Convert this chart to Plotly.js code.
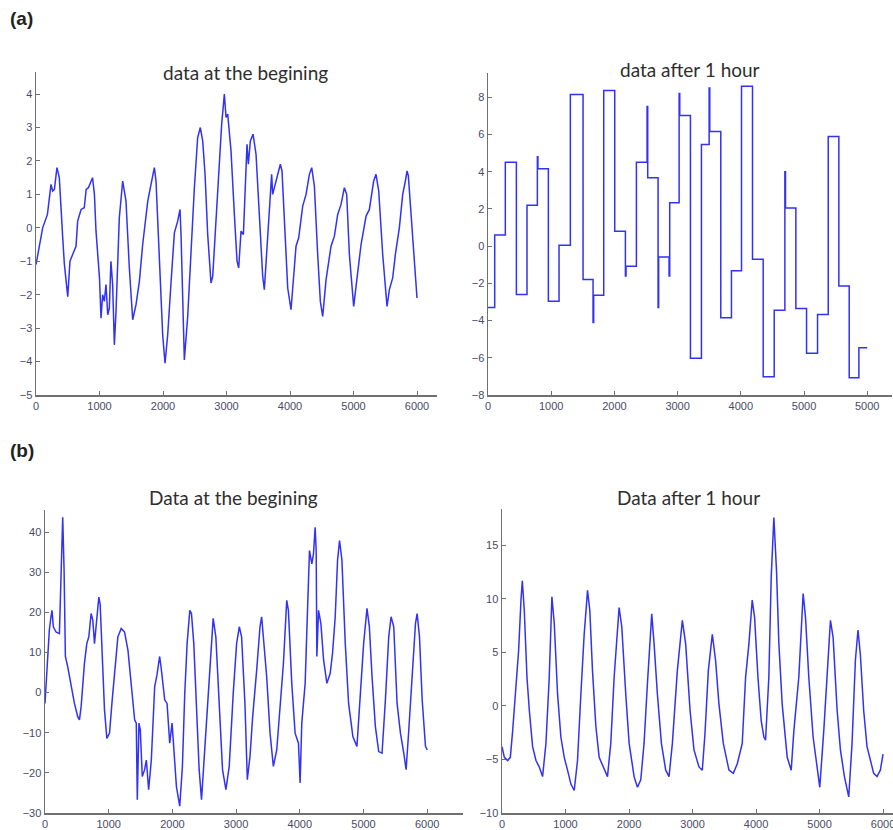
<!DOCTYPE html>
<html>
<head>
<meta charset="utf-8">
<script src="https://cdn.plot.ly/plotly-3.0.1.min.js"></script>
<style>html,body{margin:0;padding:0;background:#fff;}#chart{width:893px;height:830px;}</style>
</head>
<body>
<div id="chart"></div>
<script>
// Panel (a) left: data at the begining
const a1X = [0,50,105,180,210,236,262,290,330,367,420,446,500,535,577,630,656,710,760,790,825,866,890,920,945,1000,1024,1050,1076,1102,1130,1155,1180,1207,1234,1260,1312,1365,1417,1470,1523,1575,1628,1680,1760,1811,1864,1890,1943,1995,2032,2074,2126,2179,2231,2268,2284,2310,2336,2389,2441,2494,2546,2588,2625,2662,2704,2756,2783,2835,2888,2924,2966,2993,3019,3071,3124,3166,3192,3229,3266,3297,3323,3344,3376,3418,3465,3517,3570,3596,3649,3690,3711,3727,3780,3848,3874,3911,3964,4016,4058,4095,4137,4200,4253,4305,4342,4384,4436,4478,4515,4568,4646,4699,4751,4804,4856,4893,4935,5003,5040,5119,5198,5250,5318,5355,5397,5460,5528,5565,5617,5659,5722,5775,5817,5843,5864,5906,5959,6000];
const a1Y = [-1.1,-0.6,0,0.4,1.0,1.3,1.1,1.15,1.8,1.5,-0.27,-1.07,-2.06,-1.0,-0.8,-0.55,0.2,0.55,0.6,1.15,1.2,1.4,1.5,1.0,-0.1,-1.5,-2.7,-2.0,-2.2,-1.7,-2.6,-2.4,-1.0,-1.7,-3.5,-2.5,0.3,1.4,0.8,-1.2,-2.75,-2.3,-1.6,-0.5,0.8,1.3,1.8,1.4,-1.2,-3.2,-4.05,-3.2,-1.65,-0.15,0.2,0.55,-0.2,-2.2,-3.95,-2.65,-0.65,1.2,2.7,3.0,2.6,1.6,-0.2,-1.65,-1.45,0.3,1.9,3.1,4.0,3.3,3.4,2.3,0.4,-1.0,-1.2,-0.1,-0.2,1.5,2.5,1.9,2.6,2.8,2.2,0.4,-1.45,-1.85,-0.2,1.2,1.6,1.0,1.4,1.9,1.7,0.3,-1.8,-2.45,-1.35,-0.55,-0.3,0.65,1.0,1.6,1.8,1.25,-0.8,-2.2,-2.65,-1.55,-0.55,-0.25,0.4,0.7,1.2,1.0,-0.8,-2.35,-1.75,-0.5,0.35,0.55,1.4,1.6,1.1,-0.8,-2.35,-1.85,-1.5,-0.8,0,1.0,1.4,1.7,1.55,0.3,-1.0,-2.1];

// Panel (a) right: data after 1 hour (step levels start at each x)
const a2X = [0,106,274,449,617,781,790,955,1124,1303,1504,1662,1672,1831,2005,2174,2184,2348,2517,2527,2691,2700,2865,2875,3024,3034,3203,3377,3499,3509,3683,3852,4011,4185,4354,4528,4697,4707,4871,5040,5214,5383,5551,5715,5868,6000];
const a2Y = [-3.3,0.6,4.5,-2.6,2.2,4.8,4.16,-2.96,0.04,8.14,-1.8,-4.1,-2.64,8.36,0.8,-1.6,-1.08,4.5,7.5,3.67,-3.3,-0.58,-1.6,2.33,8.2,7.02,-6.03,5.46,8.5,6.16,-3.85,-1.33,8.59,-0.71,-7.02,-3.44,4.0,2.05,-3.35,-5.76,-3.67,5.89,-2.15,-7.07,-5.46,-5.46];

// Panel (b) left: Data at the begining
const b1X = [0,16,42,68,94,110,131,173,226,241,278,299,320,357,409,462,514,541,567,619,656,688,724,751,777,803,845,866,898,934,971,1013,1055,1092,1144,1197,1249,1302,1354,1407,1433,1449,1475,1496,1527,1564,1591,1627,1669,1722,1758,1800,1827,1879,1916,1958,1995,2037,2063,2115,2157,2194,2231,2273,2299,2336,2378,2420,2457,2493,2546,2598,2640,2682,2735,2787,2840,2892,2955,3008,3050,3086,3139,3176,3218,3260,3323,3375,3401,3438,3480,3533,3585,3638,3690,3743,3795,3821,3874,3926,3979,4005,4031,4084,4121,4152,4189,4215,4241,4257,4268,4294,4331,4373,4425,4477,4514,4556,4593,4624,4661,4714,4766,4834,4897,4950,5002,5055,5092,5134,5186,5239,5291,5344,5396,5433,5475,5527,5580,5632,5669,5711,5764,5816,5842,5879,5921,5973,6000];
const b1Y = [-2.7,2.3,10.6,15.6,18.9,20.5,16.4,15.1,14.7,25.1,43.7,31,9,6.4,1.5,-2.7,-6,-6.8,-3.5,7.3,12.2,13.9,19.7,18,12.2,17.2,23.8,22,9,-4.3,-11.4,-10.1,-1.8,5.6,13.9,16,15.1,10.6,2.3,-6.8,-7.6,-26.7,-7.6,-9.3,-20.9,-19.2,-16.8,-24.2,-16.8,1.5,4.4,9,5.7,-1.8,-2.7,-12.6,-7.6,-16.8,-23.4,-28.3,-18.4,-0.2,12.2,20.5,19.7,12.2,-4.3,-19.2,-26.7,-17.6,-4.3,10.6,18.5,13.9,-4.3,-19.2,-24.2,-18.4,-0.2,12.2,16.4,13.9,-2.7,-21.7,-15.9,-6,5.6,16.4,18.9,11.4,4,-10.1,-18.4,-14.3,-4.3,7.3,23,20.5,2.3,-10.1,-12.6,-22.5,-7.6,2.3,20.5,35.4,32.1,34.6,41.2,35.4,9,20.5,17.2,8.2,2.3,4.8,9.8,18.9,33,37.9,33,12.2,-2.7,-11,-13.4,-0.2,12.2,21,16.4,4,-8.4,-14.7,-15.1,-1.8,13.9,18.9,16.4,-2.7,-10.1,-15.1,-19.2,-9.3,5.6,17.2,19.7,13.9,-1.8,-13.4,-14.3];

// Panel (b) right: Data after 1 hour
const b2X = [0,37,89,131,168,220,262,299,320,351,393,430,482,535,587,639,692,744,786,823,875,927,980,1032,1085,1137,1189,1242,1294,1347,1383,1425,1478,1530,1609,1661,1713,1766,1844,1886,1949,2002,2080,2133,2185,2237,2290,2358,2395,2447,2510,2578,2630,2683,2761,2840,2892,2961,3023,3102,3154,3196,3249,3312,3364,3416,3485,3574,3642,3705,3783,3836,3888,3940,3977,4030,4082,4124,4150,4202,4239,4281,4323,4360,4412,4491,4554,4596,4674,4742,4779,4831,4899,4962,5004,5067,5120,5172,5214,5277,5329,5392,5460,5512,5565,5606,5643,5695,5748,5801,5853,5905,5958,6000];
const b2Y = [-3.8,-4.8,-5.1,-4.8,-2.3,1.5,5.2,9.9,11.7,8.9,2.7,-0.4,-3.8,-5.1,-5.7,-6.6,-3.5,2.7,10.2,7.7,1.1,-2.9,-4.8,-6.0,-7.3,-7.9,-5.1,1.1,6.7,10.8,8.9,3.3,-1.9,-4.8,-6.0,-6.6,-3.5,2.7,9.2,7.4,1.1,-3.5,-6.6,-7.6,-6.9,-3.5,2.1,8.6,5.8,1.1,-3.5,-6.0,-6.6,-3.5,3.3,8.0,5.8,-0.4,-4.1,-5.7,-6.0,-2.6,3.3,6.7,4.2,0.2,-3.5,-6.0,-6.3,-5.4,-3.5,2.7,5.8,9.9,8.3,2.7,-1.4,-2.9,-3.2,2.7,12.0,17.6,12.6,5.8,0.2,-4.8,-6.0,-2.3,2.7,10.5,8.3,2.7,-2.9,-6.0,-7.6,-2.3,3.3,8.0,6.4,-0.4,-4.1,-6.6,-8.5,-3.5,4.3,7.1,4.8,-0.4,-3.8,-5.1,-6.3,-6.6,-6.0,-4.5];

const tickVals = [0,1000,2000,3000,4000,5000,6000];
const tickTextA = ['0','1000','2000','3000','4000','5000','6000'];
const tickTextA2 = ['0','1000','2000','3000','4000','5000','5000'];
const yTicksA1 = [-5,-4,-3,-2,-1,0,1,2,3,4];
const yTicksA2 = [-8,-6,-4,-2,0,2,4,6,8];
const yTicksB1 = [-30,-20,-10,0,10,20,30,40];
const yTicksB2 = [-10,-5,0,5,10,15];

const W = 893, H = 830;
const px = v => v / W;
const py = v => 1 - v / H;
const lineColor = 'rgb(50,50,245)';
const tickFont = {family:'Liberation Sans, Arial', size:11, color:'#4a4a66'};

function xAx(x0, x1, rng, ttext) {
  return {domain:[px(x0), px(x1)], range: rng, tickvals: tickVals, ticktext: ttext,
    showgrid:false, zeroline:false, showline:true, linecolor:'#707070', linewidth:1.5,
    ticks:'inside', ticklen:4, tickcolor:'#707070', ticklabeloverflow:'allow',
    tickfont:tickFont, fixedrange:true};
}
function yAx(y0, y1, rng, tv) {
  return {domain:[py(y1), py(y0)], range: rng, tickvals: tv,
    showgrid:false, zeroline:false, showline:true, linecolor:'#707070', linewidth:1.5,
    ticks:'inside', ticklen:4, tickcolor:'#707070', ticklabeloverflow:'allow',
    tickfont:tickFont, fixedrange:true};
}

const lineStyle = {color: lineColor, width: 1.5};
const data = [
  {x:a1X, y:a1Y, type:'scatter', mode:'lines', line:lineStyle, xaxis:'x', yaxis:'y'},
  {x:a2X, y:a2Y, type:'scatter', mode:'lines', line:Object.assign({shape:'hv'}, lineStyle), xaxis:'x2', yaxis:'y2'},
  {x:b1X, y:b1Y, type:'scatter', mode:'lines', line:lineStyle, xaxis:'x3', yaxis:'y3'},
  {x:b2X, y:b2Y, type:'scatter', mode:'lines', line:lineStyle, xaxis:'x4', yaxis:'y4'}
];

const titleFont = {family:'Lato, Open Sans, sans-serif', size:19, color:'#2e2e2e'};
const layout = {
  width: W, height: H, showlegend:false,
  margin:{l:0, r:0, t:0, b:0},
  paper_bgcolor:'#fff', plot_bgcolor:'#fff',
  xaxis: xAx(36, 437, [0, 6315], tickTextA),
  yaxis: Object.assign(yAx(72, 395, [-5, 4.66], yTicksA1), {anchor:'x'}),
  xaxis2: Object.assign(xAx(488, 892, [0, 6392], tickTextA2), {anchor:'y2'}),
  yaxis2: Object.assign(yAx(73, 395, [-8, 9.3], yTicksA2), {anchor:'x2'}),
  xaxis3: Object.assign(xAx(45, 463, [0, 6562], tickTextA), {anchor:'y3'}),
  yaxis3: Object.assign(yAx(510, 813, [-30, 45.5], yTicksB1), {anchor:'x3'}),
  xaxis4: Object.assign(xAx(502, 893, [0, 6157], tickTextA), {anchor:'y4'}),
  yaxis4: Object.assign(yAx(509, 813, [-10, 18.4], yTicksB2), {anchor:'x4'}),
  annotations: [
    {text:'<b>(a)</b>', xref:'paper', yref:'paper', x:px(8), y:py(18), xanchor:'left', yanchor:'middle', showarrow:false, font:{family:'Liberation Sans, Arial', size:19, color:'#222'}},
    {text:'<b>(b)</b>', xref:'paper', yref:'paper', x:px(8), y:py(450), xanchor:'left', yanchor:'middle', showarrow:false, font:{family:'Liberation Sans, Arial', size:19, color:'#222'}},
    {text:'data at the begining', xref:'paper', yref:'paper', x:px(245), y:py(72), xanchor:'center', yanchor:'middle', showarrow:false, font:titleFont},
    {text:'data after 1 hour', xref:'paper', yref:'paper', x:px(690), y:py(70), xanchor:'center', yanchor:'middle', showarrow:false, font:titleFont},
    {text:'Data at the begining', xref:'paper', yref:'paper', x:px(233), y:py(497), xanchor:'center', yanchor:'middle', showarrow:false, font:titleFont},
    {text:'Data after 1 hour', xref:'paper', yref:'paper', x:px(688), y:py(497), xanchor:'center', yanchor:'middle', showarrow:false, font:titleFont}
  ]
};

Plotly.newPlot('chart', data, layout, {displayModeBar:false, staticPlot:true});
</script>
</body>
</html>
